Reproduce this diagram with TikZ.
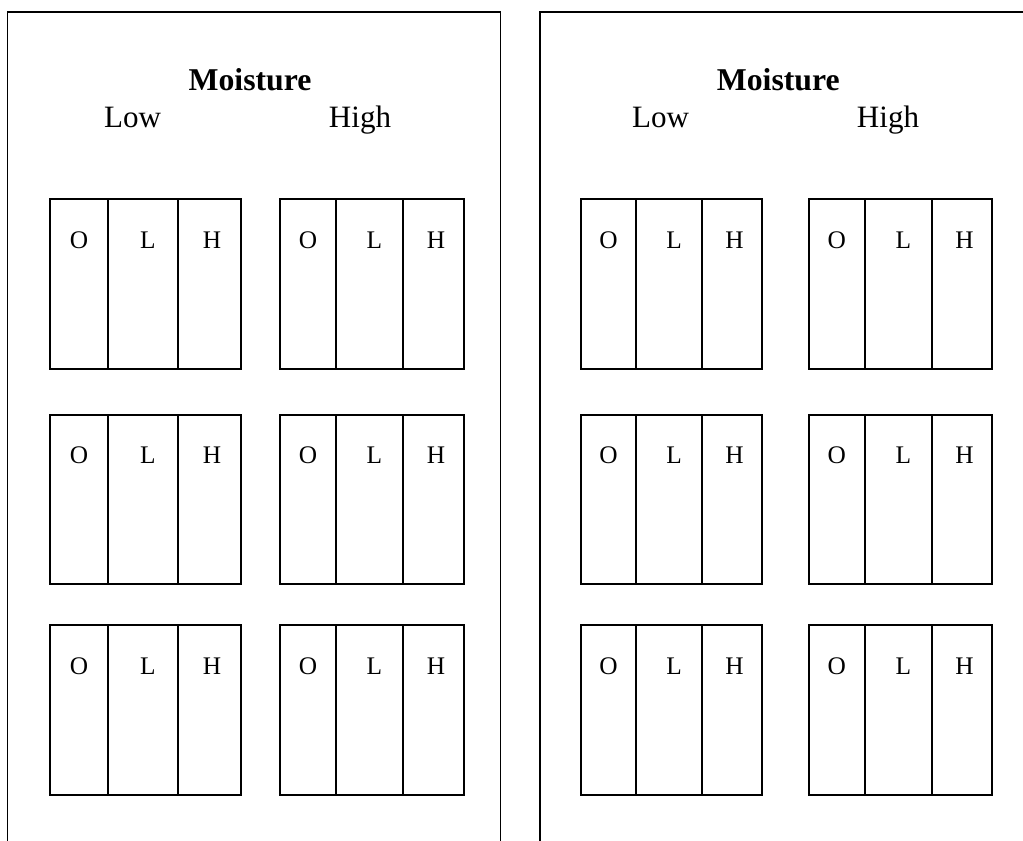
\documentclass[tikz,border=0pt]{standalone}
\usepackage{fontspec}
\setmainfont{Liberation Serif}
\newcommand\plotgroup[7]{%
  \node[cell, minimum width={(#3-#2)*0.75pt}, minimum height={(#7-#6)*0.75pt}] (#1-o) at (#2,#6) {};
  \node[cell, minimum width={(#4-#3)*0.75pt}, minimum height={(#7-#6)*0.75pt}] (#1-l) at (#3,#6) {};
  \node[cell, minimum width={(#5-#4)*0.75pt}, minimum height={(#7-#6)*0.75pt}] (#1-h) at (#4,#6) {};
  \node[letter] (#1-ot) at ([shift={(0,50)}]#1-o.north) {O};
  \node[letter] (#1-lt) at ([shift={(5,50)}]#1-l.north) {L};
  \node[letter] (#1-ht) at ([shift={(2.5,50)}]#1-h.north) {H};
}
\begin{document}
\begin{tikzpicture}[x=0.75pt,y=-0.75pt,
  frame/.style={line width=1.4pt},
  cell/.style={draw, line width=1.4pt, inner sep=0pt, anchor=north west},
  letter/.style={font=\fontsize{19}{19}\selectfont, anchor=base, inner sep=0pt},
  head/.style={font=\fontsize{23.8}{23.8}\selectfont\bfseries, anchor=base, inner sep=0pt},
  sub/.style={font=\fontsize{23.3}{23.3}\selectfont, anchor=base, inner sep=0pt}]
\useasboundingbox (0,0) rectangle (1023,840);
\clip (0,0) rectangle (1023,840);
\fill[white] (0,0) rectangle (1023,840);
% panels
\draw[frame] (7.5,850) -- (7.5,11.7) -- (500.5,11.7) -- (500.5,850);
\draw[frame] (540,850) -- (540,11.7) -- (1030,11.7);
% headings
\node[head] (m1) at (250,90) {Moisture};
\node[sub] (low1) at (132.5,127) {Low};
\node[sub] (high1) at (360,127) {High};
\node[head] (m2) at (778.3,90) {Moisture};
\node[sub] (low2) at (660.5,127) {Low};
\node[sub] (high2) at (888,127) {High};
% groups
\foreach \r/\ya/\yb in {1/198/367.7, 2/413.7/582.7, 3/624.3/793.7} {
  \plotgroup{A-low-\r}{49}{107}{177}{240.3}{\ya}{\yb}
  \plotgroup{A-high-\r}{279}{335}{402}{463}{\ya}{\yb}
  \plotgroup{B-low-\r}{580}{635}{701.3}{760.7}{\ya}{\yb}
  \plotgroup{B-high-\r}{808}{863.7}{931}{991.3}{\ya}{\yb}
}
\end{tikzpicture}
\end{document}
